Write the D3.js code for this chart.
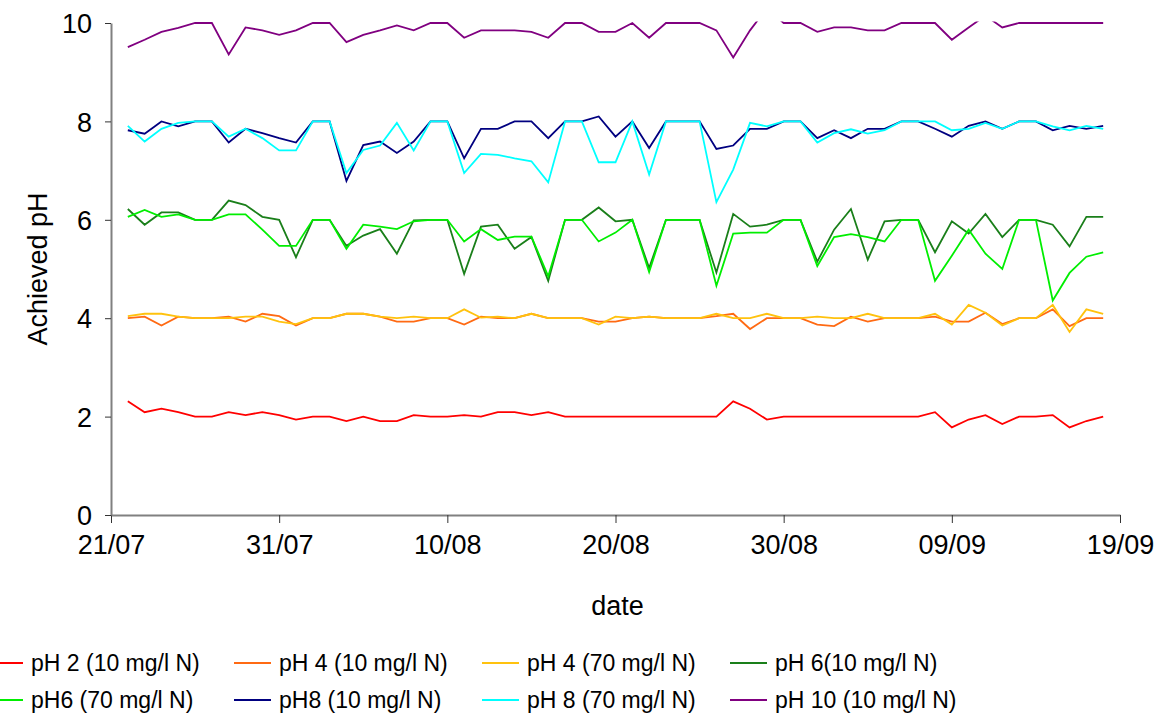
<!DOCTYPE html>
<html>
<head>
<meta charset="utf-8">
<script src="https://cdn.jsdelivr.net/npm/d3@7"></script>
<style>
    body { margin: 0; background: #fff; }
    svg { display: block; font-family: "Liberation Sans", Arial, sans-serif; }
</style>
</head>
<body>
<div id="chart"></div>
<script>
const dates = [
    '22/07', '23/07', '24/07', '25/07', '26/07', '27/07', '28/07', '29/07', '30/07', '31/07',
    '01/08', '02/08', '03/08', '04/08', '05/08', '06/08', '07/08', '08/08', '09/08', '10/08',
    '11/08', '12/08', '13/08', '14/08', '15/08', '16/08', '17/08', '18/08', '19/08', '20/08',
    '21/08', '22/08', '23/08', '24/08', '25/08', '26/08', '27/08', '28/08', '29/08', '30/08',
    '31/08', '01/09', '02/09', '03/09', '04/09', '05/09', '06/09', '07/09', '08/09', '09/09',
    '10/09', '11/09', '12/09', '13/09', '14/09', '15/09', '16/09', '17/09', '18/09'];

const xTickLabels = ['21/07', '31/07', '10/08', '20/08', '30/08', '09/09', '19/09'];
const yTickValues = [0, 2, 4, 6, 8, 10];

const seriesNames = [
    'pH 2 (10 mg/l N)', 'pH 4 (10 mg/l N)', 'pH 4 (70 mg/l N)', 'pH 6(10 mg/l N)',
    'pH6 (70 mg/l N)', 'pH8 (10 mg/l N)', 'pH 8 (70 mg/l N)', 'pH 10 (10 mg/l N)'];

const ph2_10 = [
    2.31, 2.09, 2.16, 2.09, 2.0, 2.0, 2.09, 2.03, 2.09, 2.03, 1.94, 2.0, 2.0, 1.91, 2.0,
    1.91, 1.91, 2.03, 2.0, 2.0, 2.03, 2.0, 2.09, 2.09, 2.03, 2.09, 2.0, 2.0, 2.0, 2.0,
    2.0, 2.0, 2.0, 2.0, 2.0, 2.0, 2.31, 2.16, 1.94, 2.0, 2.0, 2.0, 2.0, 2.0, 2.0,
    2.0, 2.0, 2.0, 2.09, 1.78, 1.94, 2.03, 1.85, 2.0, 2.0, 2.03, 1.78, 1.91, 2.0];
const ph4_10 = [
    4.0, 4.03, 3.85, 4.03, 4.0, 4.0, 4.03, 3.93, 4.09, 4.04, 3.85, 4.0, 4.0, 4.09, 4.09,
    4.03, 3.93, 3.93, 4.0, 4.0, 3.87, 4.03, 4.0, 4.0, 4.09, 4.0, 4.0, 4.0, 3.93, 3.93,
    4.0, 4.03, 4.0, 4.0, 4.0, 4.04, 4.09, 3.78, 4.0, 4.0, 4.0, 3.87, 3.84, 4.03, 3.93,
    4.0, 4.0, 4.0, 4.03, 3.93, 3.93, 4.11, 3.88, 4.0, 4.0, 4.18, 3.84, 4.0, 4.0];
const ph4_70 = [
    4.04, 4.09, 4.09, 4.03, 4.0, 4.0, 4.0, 4.03, 4.03, 3.93, 3.88, 4.0, 4.0, 4.09, 4.09,
    4.03, 4.0, 4.03, 4.0, 4.0, 4.18, 4.01, 4.03, 4.0, 4.09, 4.0, 4.0, 4.0, 3.87, 4.03,
    4.0, 4.03, 4.0, 4.0, 4.0, 4.09, 4.0, 4.0, 4.09, 4.0, 4.0, 4.03, 4.0, 4.0, 4.09,
    4.0, 4.0, 4.0, 4.09, 3.87, 4.27, 4.11, 3.85, 4.0, 4.0, 4.27, 3.72, 4.18, 4.09];
const ph6_10 = [
    6.22, 5.9, 6.15, 6.15, 6.0, 6.0, 6.39, 6.3, 6.06, 6.0, 5.24, 6.0, 6.0, 5.47, 5.68,
    5.81, 5.31, 5.99, 6.0, 6.0, 4.9, 5.86, 5.9, 5.41, 5.65, 4.76, 6.0, 6.0, 6.25, 5.97,
    6.0, 5.02, 6.0, 6.0, 6.0, 4.93, 6.12, 5.86, 5.9, 6.0, 6.0, 5.15, 5.8, 6.22, 5.19,
    5.97, 6.0, 6.0, 5.34, 5.97, 5.72, 6.12, 5.65, 6.0, 6.0, 5.9, 5.46, 6.06, 6.06];
const ph6_70 = [
    6.06, 6.2, 6.06, 6.11, 6.0, 6.0, 6.11, 6.11, 5.8, 5.47, 5.47, 6.0, 6.0, 5.41, 5.9,
    5.86, 5.81, 5.97, 6.0, 6.0, 5.56, 5.81, 5.59, 5.66, 5.66, 4.85, 6.0, 6.0, 5.56, 5.74,
    6.0, 4.94, 6.0, 6.0, 6.0, 4.66, 5.72, 5.74, 5.74, 6.0, 6.0, 5.06, 5.65, 5.71, 5.65,
    5.56, 6.0, 6.0, 4.76, 5.27, 5.8, 5.31, 5.0, 6.0, 6.0, 4.36, 4.92, 5.25, 5.34];
const ph8_10 = [
    7.82, 7.75, 8.0, 7.9, 8.0, 8.0, 7.57, 7.85, 7.76, 7.66, 7.57, 8.0, 8.0, 6.79, 7.52,
    7.59, 7.36, 7.59, 8.0, 8.0, 7.25, 7.85, 7.85, 8.0, 8.0, 7.66, 8.0, 8.0, 8.1, 7.69,
    8.0, 7.46, 8.0, 8.0, 8.0, 7.44, 7.51, 7.85, 7.85, 8.0, 8.0, 7.66, 7.82, 7.66, 7.85,
    7.85, 8.0, 8.0, 7.85, 7.69, 7.91, 8.0, 7.85, 8.0, 8.0, 7.82, 7.91, 7.85, 7.91];
const ph8_70 = [
    7.91, 7.59, 7.85, 7.97, 8.0, 8.0, 7.69, 7.85, 7.66, 7.41, 7.41, 8.0, 8.0, 6.95, 7.42,
    7.51, 7.97, 7.41, 8.0, 8.0, 6.95, 7.34, 7.32, 7.25, 7.19, 6.76, 8.0, 8.0, 7.17, 7.17,
    8.0, 6.92, 8.0, 8.0, 8.0, 6.36, 7.02, 7.97, 7.9, 8.0, 8.0, 7.57, 7.76, 7.84, 7.75,
    7.82, 8.0, 8.0, 8.0, 7.82, 7.85, 7.97, 7.85, 8.0, 8.0, 7.9, 7.82, 7.91, 7.85];
const ph10_10 = [
    9.51, 9.66, 9.82, 9.9, 10.0, 10.0, 9.36, 9.91, 9.85, 9.76, 9.85, 10.0, 10.0, 9.61, 9.76,
    9.85, 9.95, 9.85, 10.0, 10.0, 9.7, 9.85, 9.85, 9.85, 9.82, 9.7, 10.0, 10.0, 9.82, 9.82,
    10.0, 9.7, 10.0, 10.0, 10.0, 9.85, 9.3, 9.85, 10.3, 10.0, 10.0, 9.82, 9.91, 9.91, 9.85,
    9.85, 10.0, 10.0, 10.0, 9.66, 9.91, 10.15, 9.91, 10.0, 10.0, 10.0, 10.0, 10.0, 10.0];

const seriesValues = [ph2_10, ph4_10, ph4_70, ph6_10, ph6_70, ph8_10, ph8_70, ph10_10];

const CONFIG = {
    WIDTH: 1168,
    HEIGHT: 716,
    PLOT: { left: 111, right: 1120, top: 23, bottom: 515 },
    COLORS: ['#ff0000', '#ff6a13', '#ffc20e', '#1a7f1a', '#00ee00', '#000080', '#00ffff', '#800080'],
    AXIS_COLOR: '#808080',
    FONT_AXIS: 27,
    FONT_LEGEND: 23,
    LINE_WIDTH: 1.8
};

const parseDate = d3.timeParse('%d/%m/%Y');
const toDate = s => parseDate(s + '/2004');

class PhChart {
    constructor(parent) {
        this.ROOT = d3.select(parent).append('svg')
            .attr('width', CONFIG.WIDTH)
            .attr('height', CONFIG.HEIGHT)
            .attr('viewBox', [0, 0, CONFIG.WIDTH, CONFIG.HEIGHT]);
        this.ROOT.append('rect')
            .attr('width', CONFIG.WIDTH).attr('height', CONFIG.HEIGHT)
            .attr('fill', '#fff');

        this.series = seriesNames.map((name, i) => ({
            name: name,
            color: CONFIG.COLORS[i],
            points: seriesValues[i].map((v, j) => ({ date: toDate(dates[j]), value: v }))
        }));

        this.createScales();
    }

    createScales() {
        const P = CONFIG.PLOT;
        this.xScale = d3.scaleTime()
            .domain([toDate(xTickLabels[0]), toDate(xTickLabels[xTickLabels.length - 1])])
            .range([P.left, P.right]);
        this.yScale = d3.scaleLinear()
            .domain([0, 10])
            .range([P.bottom, P.top]);
    }

    draw() {
        this.drawAxes();
        this.drawLines();
        this.drawLegend();
    }

    drawAxes() {
        const P = CONFIG.PLOT;

        this.X_AXIS = this.ROOT.append('g')
            .attr('transform', `translate(0,${P.bottom})`)
            .call(d3.axisBottom(this.xScale)
                .tickValues(xTickLabels.map(toDate))
                .tickFormat(d3.timeFormat('%d/%m'))
                .tickSize(8)
                .tickSizeOuter(0)
                .tickPadding(12));

        this.Y_AXIS = this.ROOT.append('g')
            .attr('transform', `translate(${P.left},0)`)
            .call(d3.axisLeft(this.yScale)
                .tickValues(yTickValues)
                .tickSize(6)
                .tickSizeOuter(0)
                .tickPadding(13));

        [this.X_AXIS, this.Y_AXIS].forEach(ax => {
            ax.select('.domain').attr('stroke', CONFIG.AXIS_COLOR).attr('stroke-width', 2);
            ax.selectAll('.tick line').attr('stroke', '#333').attr('stroke-width', 1);
            ax.selectAll('.tick text')
                .attr('font-size', CONFIG.FONT_AXIS)
                .attr('font-family', '"Liberation Sans", Arial, sans-serif')
                .attr('fill', '#000');
        });
        this.Y_AXIS.selectAll('.tick text').attr('dy', '0.36em');

        this.ROOT.append('text')
            .attr('x', (P.left + P.right) / 2 + 2)
            .attr('y', 615)
            .attr('text-anchor', 'middle')
            .attr('font-size', CONFIG.FONT_AXIS)
            .text('date');

        this.ROOT.append('text')
            .attr('transform', `translate(47,${(P.top + P.bottom) / 2}) rotate(-90)`)
            .attr('text-anchor', 'middle')
            .attr('font-size', CONFIG.FONT_AXIS)
            .text('Achieved pH');
    }

    drawLines() {
        const P = CONFIG.PLOT;
        // lines are clipped at the plot frame, so values above 10 leave gaps
        this.ROOT.append('clipPath')
            .attr('id', 'plot-clip')
            .append('rect')
            .attr('x', P.left)
            .attr('y', P.top - 1.5)
            .attr('width', P.right - P.left)
            .attr('height', P.bottom - P.top + 1.5);

        const line = d3.line()
            .x(d => this.xScale(d.date))
            .y(d => this.yScale(d.value));

        this.LINES = this.ROOT.append('g')
            .attr('clip-path', 'url(#plot-clip)')
            .selectAll('path')
            .data(this.series)
            .join('path')
            .attr('fill', 'none')
            .attr('stroke', d => d.color)
            .attr('stroke-width', CONFIG.LINE_WIDTH)
            .attr('stroke-linejoin', 'miter')
            .attr('d', d => line(d.points));
    }

    drawLegend() {
        const colStart = [-14, 234, 482, 730];
        const rowY = [663, 700];
        const LEGEND = this.ROOT.append('g')
            .selectAll('g')
            .data(this.series)
            .join('g')
            .attr('transform', (d, i) => `translate(${colStart[i % 4]},${rowY[Math.floor(i / 4)]})`);

        LEGEND.append('line')
            .attr('x1', 0).attr('x2', 37)
            .attr('stroke', d => d.color)
            .attr('stroke-width', CONFIG.LINE_WIDTH);

        LEGEND.append('text')
            .attr('x', 45)
            .attr('dy', '0.36em')
            .attr('font-size', CONFIG.FONT_LEGEND)
            .text(d => d.name);
    }
}

const chart = new PhChart(document.getElementById('chart'));
chart.draw();
</script>
</body>
</html>
